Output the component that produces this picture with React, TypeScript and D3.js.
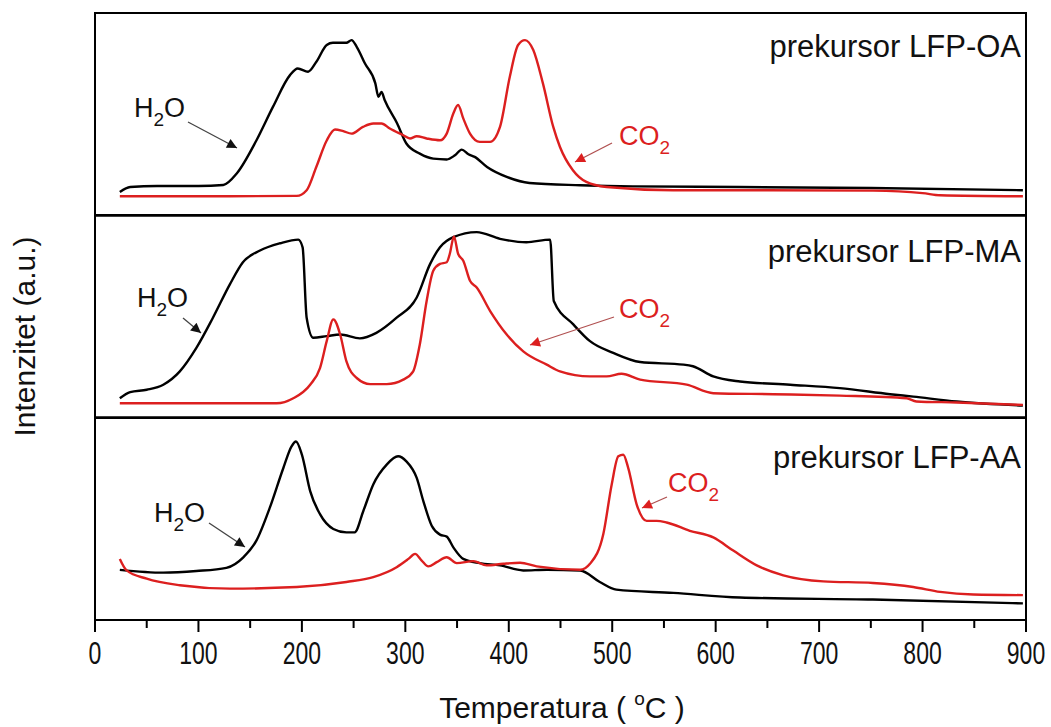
import React from 'react';
import * as d3 from 'd3';

// [temperature °C, intensity a.u.], one array per trace
const oaH2O: [number, number][] = [
  [24, 11.5], [34, 14], [60, 14.5], [100, 14.5], [124, 15], [137, 20.7], [156, 37], [172, 53.6],
  [188.5, 69.3], [196, 72.6], [206, 71], [214, 75.9], [224, 84.2], [230, 85.3], [243, 85.3],
  [248, 86.6], [253, 83.3], [261, 75], [271, 65.2], [274, 58.6], [277, 61], [280, 57], [292, 45.5],
  [301, 35.5], [314, 30.5], [327, 28], [340, 27.6], [348, 29.7], [354.5, 32.5], [361, 30.2],
  [367, 28.9], [379, 23.9], [398, 19], [420, 16], [469, 14.9], [520, 14.3], [623, 14], [750, 13.5],
  [897, 12.4],
];
const oaCO2: [number, number][] = [
  [24, 9.4], [100, 9.4], [195, 9.6], [204.6, 12.4], [214, 24], [224, 37], [232, 42.4], [240, 41.6],
  [248, 40.4], [259, 43.7], [269, 45.4], [277, 45.4], [285, 42.9], [298, 39.6], [304.5, 38],
  [311, 39.1], [320.6, 38], [333.5, 37.1], [340, 40.4], [346.4, 50.3], [351, 54.5], [356, 47.9],
  [362.5, 40.4], [372, 36.3], [382, 36.3], [391.5, 43.7], [401, 68.5], [409, 84.2], [415.7, 86.6],
  [423.7, 81.7], [433, 65.2], [443, 43.7], [449.5, 33.8], [462, 22.3], [475, 16.5], [494.6, 14],
  [559, 12.4], [650, 12.4], [752, 12.2], [800, 11], [817, 9.9], [897, 9.4],
];
const maH2O: [number, number][] = [
  [24, 9.6], [34, 12.6], [50, 13.8], [66, 16.3], [82, 22.9], [98, 34.5], [114, 49.4], [130.5, 66],
  [143, 76.8], [159.5, 82.6], [179, 86.2], [196.5, 88], [200.7, 84.2], [204.6, 49.4], [211, 39.5],
  [224, 40.3], [237, 41.1], [256, 39.2], [272, 41.9], [291.6, 49.4], [311, 59.4], [324, 76],
  [333.5, 84.2], [346.4, 89.2], [369, 91.7], [391.5, 88.4], [417, 86.7], [440, 88], [443.5, 57.7],
  [462.4, 46.1], [478.5, 37.8], [501, 32], [527, 27.5], [569, 26.2], [578, 25.4], [597.7, 20.4],
  [623.5, 17.9], [672, 16.3], [720, 14.6], [768.6, 11.6], [791, 10.4], [833, 8], [897, 6],
];
const maCO2: [number, number][] = [
  [24, 7.1], [100, 7.1], [175.6, 7.1], [191.7, 9.6], [208, 16.3], [217.5, 24.5], [224, 37.8],
  [230.4, 48.6], [237, 41.1], [243, 27.9], [253, 19.6], [266, 16.6], [282, 16.6], [298, 18.8],
  [307.6, 22.9], [314, 36.2], [320.6, 57.7], [327, 72.6], [333.5, 76], [340, 76.8], [343, 81],
  [347, 89.6], [351, 81], [356, 77.6], [362.5, 67.7], [369, 64.3], [382, 52.7], [398, 41.1],
  [414, 32.8], [436.7, 26.2], [449.5, 22.9], [478.5, 20.4], [494.6, 20.4], [509, 21.7], [527, 18.8],
  [572, 16.3], [597.7, 12.1], [655.7, 11.6], [720, 10.9], [784.7, 9.6], [794, 8], [833, 7.5],
  [897, 6.3],
];
const aaH2O: [number, number][] = [
  [24, 24.8], [66, 23.4], [98, 24.2], [127, 25.8], [143.4, 31], [156, 39.2], [169, 55.5], [182, 75],
  [190, 85.8], [194.3, 88.2], [200, 81.7], [208, 63.7], [217.5, 52.3], [230.4, 45], [243, 43.3],
  [251, 43.3], [259.4, 53.9], [269, 67], [282, 76.8], [293, 80.9], [301, 78.4], [311, 70.2],
  [317.4, 58.8], [325.5, 46.6], [333.5, 42.2], [340, 41.2], [346.4, 35.9], [356, 30.2], [372, 28.1],
  [391.5, 27], [414, 24.5], [436.7, 24.8], [469, 24.5], [488, 18.8], [504, 15], [559, 13.4],
  [623.5, 11.1], [752, 10.1], [897, 8.2],
];
const aaCO2: [number, number][] = [
  [24, 30.2], [30.6, 24.5], [50, 20.4], [82, 17.2], [130.5, 15.5], [195, 16.3], [243, 18.8],
  [269, 21.2], [291.6, 26.1], [303, 30.2], [309.4, 32.7], [315.8, 29.4], [322.2, 26.5],
  [330.3, 28.6], [340, 31], [349.7, 28.1], [365.7, 29.1], [378.6, 27], [394.7, 27.8], [411, 28.3],
  [427, 26.5], [469, 24.8], [478.5, 27.8], [491.4, 42.5], [499.5, 67], [505.9, 80.9], [510.7, 81.7],
  [515.5, 75.1], [523.6, 57.2], [533.3, 49], [543, 49], [552.6, 48.2], [575, 44.1], [597.7, 40.8],
  [617, 34.3], [639.7, 27], [665.4, 22.1], [704, 19.1], [752, 18.3], [791, 16.3], [817, 13.9],
  [849, 12.6], [897, 12.3],
];

const panelLabels = ['prekursor LFP-OA', 'prekursor LFP-MA', 'prekursor LFP-AA'];
const h2oSeries = [oaH2O, maH2O, aaH2O];
const co2Series = [oaCO2, maCO2, aaCO2];
const xDomain: [number, number] = [0, 900];
const xTickValues = d3.range(0, 901, 100);
const xMinorValues = d3.range(50, 900, 100);

const W = 1051;
const H = 727;
const left = 95;
const right = 1026;
const top = 13;
const bottom = 620;
const panelH = (bottom - top) / 3;
const RED = '#dc1f1f';
const FONT = "'Liberation Sans', Arial, Helvetica, sans-serif";

// annotation placement per panel (pixel offsets inside the figure)
const h2oNotes = [
  { tx: 134, ty: 117, x1: 188, y1: 122, x2: 237, y2: 148 },
  { tx: 137, ty: 307, x1: 183, y1: 318, x2: 201, y2: 333 },
  { tx: 154, ty: 522, x1: 209, y1: 523, x2: 245, y2: 547 },
];
const co2Notes = [
  { tx: 619, ty: 145, x1: 612, y1: 143, x2: 575, y2: 162 },
  { tx: 619, ty: 318, x1: 614, y1: 317, x2: 530, y2: 345 },
  { tx: 668, ty: 492, x1: 667, y1: 497, x2: 642, y2: 508 },
];

// formula with one subscript: head, subscript digit, tail
const Chem = ({ x, y, head, sub, tail, fill }:
  { x: number; y: number; head: string; sub: string; tail: string; fill: string }) => (
  <text x={x} y={y} fontSize={27} fill={fill} fontFamily={FONT}>
    {head}
    <tspan fontSize={19} dy={9}>{sub}</tspan>
    {tail ? <tspan dy={-9}>{tail}</tspan> : null}
  </text>
);

export default function App() {
  const x = d3.scaleLinear().domain(xDomain).range([left, right]);

  const panels = panelLabels.map((label, i) => {
    const y0 = top + i * panelH;
    const y = d3.scaleLinear().domain([0, 100]).range([y0 + panelH, y0]);
    const line = d3
      .line<[number, number]>()
      .x((d) => x(d[0]))
      .y((d) => y(d[1]))
      .curve(d3.curveMonotoneX);
    return { label, y0, h2o: line(h2oSeries[i]) || '', co2: line(co2Series[i]) || '' };
  });

  return (
    <svg width={W} height={H} style={{ position: 'absolute', left: 0, top: 0, background: '#fff' }}>
      <defs>
        <marker id="ahK" viewBox="0 0 10 10" refX="10" refY="5" markerWidth="14" markerHeight="10"
          markerUnits="userSpaceOnUse" orient="auto">
          <path d="M0,0 L10,5 L0,10 Z" fill="#111" />
        </marker>
        <marker id="ahR" viewBox="0 0 10 10" refX="10" refY="5" markerWidth="14" markerHeight="10"
          markerUnits="userSpaceOnUse" orient="auto">
          <path d="M0,0 L10,5 L0,10 Z" fill={RED} />
        </marker>
        <clipPath id="plot">
          <rect x={left} y={top} width={right - left} height={bottom - top} />
        </clipPath>
      </defs>

      {panels.map((p, i) => (
        <g key={p.label}>
          <g clipPath="url(#plot)" fill="none" strokeWidth={2.4} strokeLinejoin="round">
            <path d={p.h2o} stroke="#000" />
            <path d={p.co2} stroke={RED} />
          </g>
          <text x={1021} y={[57, 262, 468][i]} textAnchor="end" fontSize={31} fontFamily={FONT} fill="#111">
            {p.label}
          </text>
          <Chem x={h2oNotes[i].tx} y={h2oNotes[i].ty} head="H" sub="2" tail="O" fill="#111" />
          <line x1={h2oNotes[i].x1} y1={h2oNotes[i].y1} x2={h2oNotes[i].x2} y2={h2oNotes[i].y2}
            stroke="#444" strokeWidth={1.3} markerEnd="url(#ahK)" />
          <Chem x={co2Notes[i].tx} y={co2Notes[i].ty} head="CO" sub="2" tail="" fill={RED} />
          <line x1={co2Notes[i].x1} y1={co2Notes[i].y1} x2={co2Notes[i].x2} y2={co2Notes[i].y2}
            stroke="#b05050" strokeWidth={1.3} markerEnd="url(#ahR)" />
          {i > 0 && (
            <line x1={left} x2={right} y1={p.y0} y2={p.y0} stroke="#000" strokeWidth={2.6} />
          )}
        </g>
      ))}

      <rect x={left} y={top} width={right - left} height={bottom - top} fill="none" stroke="#000" strokeWidth={2} />

      {/* x axis ticks */}
      {xTickValues.map((t) => (
        <g key={`M${t}`}>
          <line x1={x(t)} x2={x(t)} y1={bottom} y2={bottom + 12} stroke="#000" strokeWidth={2} />
          <text transform={`translate(${x(t)},${664}) scale(0.72,1)`} textAnchor="middle" fontSize={32}
            fontFamily={FONT} fill="#111">
            {t}
          </text>
        </g>
      ))}
      {xMinorValues.map((t) => (
        <line key={`m${t}`} x1={x(t)} x2={x(t)} y1={bottom} y2={bottom + 8} stroke="#000" strokeWidth={2} />
      ))}

      <text x={562} y={718} textAnchor="middle" fontSize={30} fontFamily={FONT} fill="#111">
        {'Temperatura ( '}
        <tspan fontSize={19} dy={-13}>o</tspan>
        <tspan dy={13}>{'C )'}</tspan>
      </text>
      <text transform={`translate(35,${(top + bottom) / 2 + 20}) rotate(-90)`} textAnchor="middle" fontSize={30}
        fontFamily={FONT} fill="#111">
        Intenzitet (a.u.)
      </text>
    </svg>
  );
}
